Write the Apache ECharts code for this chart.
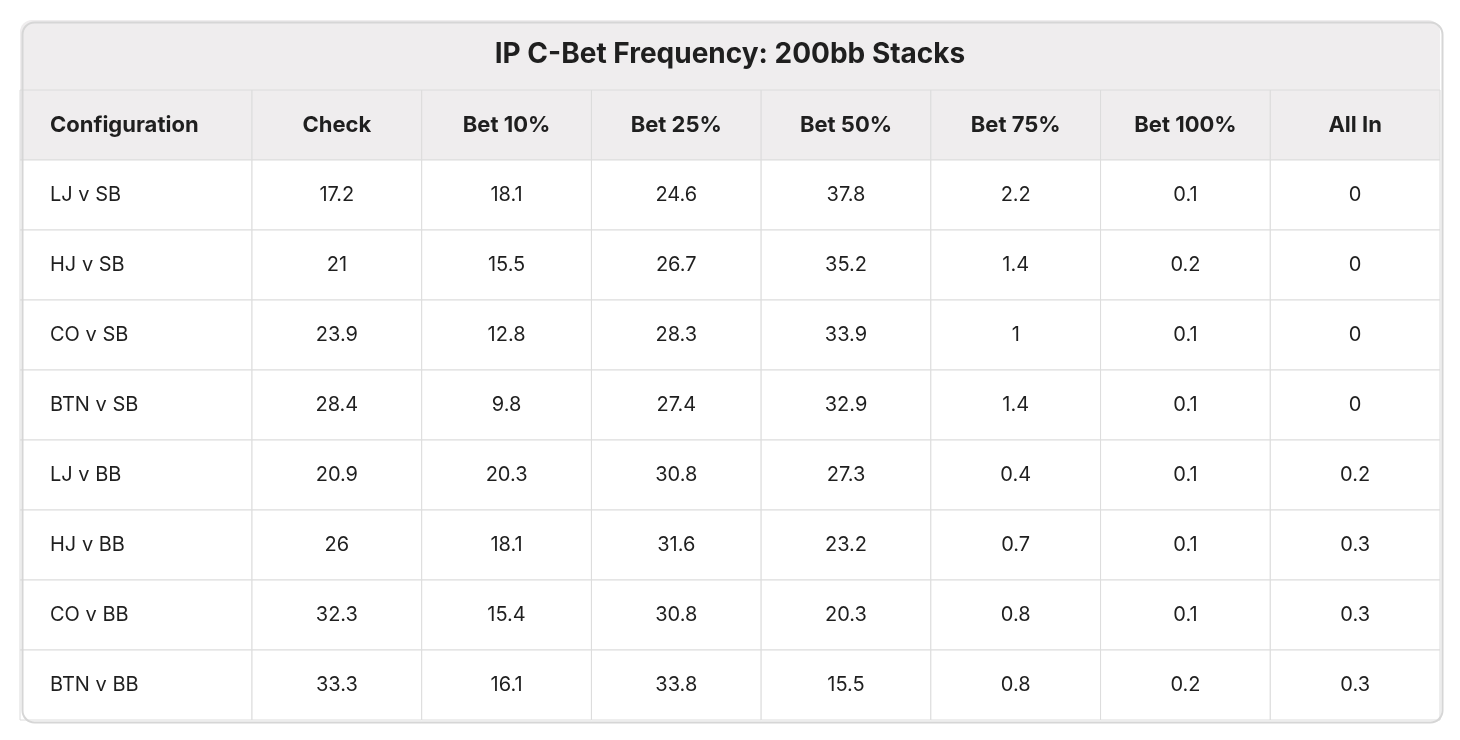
<!DOCTYPE html>
<html>
<head>
<meta charset="utf-8">
<script src="https://cdn.jsdelivr.net/npm/echarts@6/dist/echarts.min.js"></script>
<style>html,body{margin:0;background:#fff}#chart-container{width:1460px;height:740px}</style>
</head>
<body>
<div id="chart-container"></div>
<script>
var dom = document.getElementById("chart-container");
var myChart = echarts.init(dom, null, { renderer: "canvas" });

const title = "IP C-Bet Frequency: 200bb Stacks";
const headers = ["Check", "Bet 10%", "Bet 25%", "Bet 50%", "Bet 75%", "Bet 100%", "All In"];
const configs = ["LJ v SB", "HJ v SB", "CO v SB", "BTN v SB", "LJ v BB", "HJ v BB", "CO v BB", "BTN v BB"];
const check = [17.2, 21, 23.9, 28.4, 20.9, 26, 32.3, 33.3];
const bet10 = [18.1, 15.5, 12.8, 9.8, 20.3, 18.1, 15.4, 16.1];
const bet25 = [24.6, 26.7, 28.3, 27.4, 30.8, 31.6, 30.8, 33.8];
const bet50 = [37.8, 35.2, 33.9, 32.9, 27.3, 23.2, 20.3, 15.5];
const bet75 = [2.2, 1.4, 1, 1.4, 0.4, 0.7, 0.8, 0.8];
const bet100 = [0.1, 0.2, 0.1, 0.1, 0.1, 0.1, 0.1, 0.2];
const allIn = [0, 0, 0, 0, 0.2, 0.3, 0.3, 0.3];

const columns = [check, bet10, bet25, bet50, bet75, bet100, allIn];
const rows = ["header"].concat(configs);

const leftData = [[0, 0, "Configuration"]].concat(configs.map((c, i) => [0, i + 1, c]));
const rightData = [];
headers.forEach((h, j) => {
  rightData.push([j, 0, h]);
  columns[j].forEach((v, i) => rightData.push([j, i + 1, String(v)]));
});

const cell = (align, data) => (params, api) => {
  const p = api.coord([api.value(0), api.value(1)]);
  const s = api.size([1, 1]);
  const header = api.value(1) === 0;
  const x0 = p[0] - s[0] / 2, y0 = p[1] - s[1] / 2;
  return {
    type: "group",
    children: [
      {
        type: "rect",
        shape: { x: x0, y: y0, width: s[0], height: s[1] },
        style: { fill: header ? "#efedee" : "#fff", stroke: "#dcdcdc", lineWidth: 1 }
      },
      {
        type: "text",
        style: {
          x: align === "left" ? x0 + 30 : p[0],
          y: p[1],
          text: data[params.dataIndex][2],
          align: align,
          verticalAlign: "middle",
          fill: "#1f1f1f",
          font: (header ? "bold 22px" : "20px") + " Inter, 'Open Sans', sans-serif"
        }
      }
    ]
  };
};

const cat = (n) => Array.from({ length: n }, (_, i) => i);
const hidden = { show: false };

option = {
  animation: false,
  title: {
    text: title,
    left: "center",
    top: 36,
    textStyle: { fontSize: 28, fontWeight: "bold", color: "#1f1f1f", fontFamily: "Inter, 'Open Sans', sans-serif" }
  },
  graphic: [
    { type: "rect", left: 20, top: 20, z: -1, shape: { width: 1420, height: 70, r: [12, 12, 0, 0] }, style: { fill: "#efedee" } },
    { type: "rect", left: 20, top: 20, z: 100, silent: true, shape: { width: 1420, height: 700, r: 12 }, style: { fill: "none", stroke: "#d6d6d6", lineWidth: 2 } }
  ],
  grid: [
    { left: 20, top: 90, width: 232, height: 630 },
    { left: 252, top: 90, width: 1188, height: 630 }
  ],
  xAxis: [
    { type: "category", gridIndex: 0, data: cat(1), axisLine: hidden, axisTick: hidden, axisLabel: hidden },
    { type: "category", gridIndex: 1, data: cat(7), axisLine: hidden, axisTick: hidden, axisLabel: hidden }
  ],
  yAxis: [
    { type: "category", gridIndex: 0, inverse: true, data: rows, axisLine: hidden, axisTick: hidden, axisLabel: hidden },
    { type: "category", gridIndex: 1, inverse: true, data: rows, axisLine: hidden, axisTick: hidden, axisLabel: hidden }
  ],
  series: [
    { type: "custom", xAxisIndex: 0, yAxisIndex: 0, renderItem: cell("left", leftData), data: leftData },
    { type: "custom", xAxisIndex: 1, yAxisIndex: 1, renderItem: cell("center", rightData), data: rightData }
  ]
};

myChart.setOption(option);
window.addEventListener("resize", myChart.resize);
</script>
</body>
</html>
